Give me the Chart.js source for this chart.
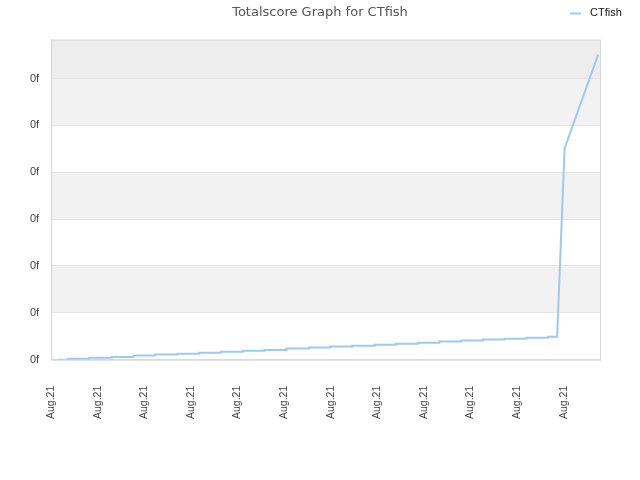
<!DOCTYPE html>
<html>
<head>
<meta charset="utf-8">
<script src="https://cdn.jsdelivr.net/npm/chart.js@4"></script>
<style>
  body { margin: 0; background: #fff; }
  #wrap { width: 640px; height: 480px; }
</style>
</head>
<body>
<div id="wrap"><canvas id="myChart" width="640" height="480"></canvas></div>
<script>
const seriesName = 'CTfish';
const xTickLabels = ['Aug.21', 'Aug.21', 'Aug.21', 'Aug.21', 'Aug.21', 'Aug.21',
  'Aug.21', 'Aug.21', 'Aug.21', 'Aug.21', 'Aug.21', 'Aug.21'];
const yTickLabels = ['0f', '0f', '0f', '0f', '0f', '0f', '0f'];

// staircase part: where each step starts and its level
const stepX = [0.13, 0.36, 0.82, 1.30, 1.77, 2.23, 2.71, 3.18, 3.64, 4.12, 4.58, 5.05,
  5.53, 5.99, 6.46, 6.94, 7.40, 7.87, 8.33, 8.80, 9.27, 9.73, 10.20, 10.67];
const stepY = [0.00, 0.02, 0.04, 0.06, 0.09, 0.11, 0.13, 0.15, 0.17, 0.19, 0.21, 0.24,
  0.26, 0.28, 0.30, 0.32, 0.34, 0.36, 0.39, 0.41, 0.43, 0.45, 0.47, 0.49];
// the jump at the end
const tailX = [10.86, 11.02, 11.74];
const tailY = [0.49, 4.51, 6.51];

const xMax = 11.78;
const yMax = 6.83;

const points = [];
stepX.forEach(function (x, i) {
  if (i > 0) points.push({ x: x, y: stepY[i - 1] });
  points.push({ x: x, y: stepY[i] });
});
tailX.forEach(function (x, i) {
  points.push({ x: x, y: tailY[i] });
});

const lineColor = '#9cc9f5';

const bandsPlugin = {
  id: 'bands',
  beforeDraw: function (chart) {
    const ctx = chart.ctx;
    const area = chart.chartArea;
    const y = chart.scales.y;
    ctx.save();
    const ticks = y.ticks.map(t => y.getPixelForValue(t.value));
    for (let i = 0; i < ticks.length - 1; i++) {
      ctx.fillStyle = i % 2 === 0 ? '#ffffff' : '#f2f2f2';
      ctx.fillRect(area.left, ticks[i + 1], area.right - area.left, ticks[i] - ticks[i + 1]);
    }
    ctx.fillStyle = '#ededed';
    ctx.fillRect(area.left, area.top, area.right - area.left, ticks[ticks.length - 1] - area.top);
    ctx.restore();
  },
  afterDraw: function (chart) {
    const ctx = chart.ctx;
    const area = chart.chartArea;
    ctx.save();
    ctx.strokeStyle = '#d9d9d9';
    ctx.lineWidth = 1;
    ctx.strokeRect(area.left + 0.5, area.top + 0.5, area.right - area.left, area.bottom - area.top);
    // legend, top right
    const ds = chart.data.datasets[0];
    ctx.strokeStyle = ds.borderColor;
    ctx.lineWidth = 2;
    ctx.beginPath();
    ctx.moveTo(570, 13.5);
    ctx.lineTo(581, 13.5);
    ctx.stroke();
    ctx.fillStyle = '#111';
    ctx.font = '11px "Liberation Sans"';
    ctx.textBaseline = 'middle';
    ctx.fillText(ds.label, 590, 13);
    ctx.restore();
  }
};

const ctx = document.getElementById('myChart').getContext('2d');
const chart = new Chart(ctx, {
  type: 'line',
  data: {
    datasets: [{
      label: seriesName,
      data: points,
      borderColor: lineColor,
      backgroundColor: lineColor,
      borderWidth: 2,
      pointRadius: 0,
      tension: 0,
      fill: false,
    }],
  },
  options: {
    responsive: false,
    animation: false,
    layout: {
      padding: { left: 18, right: 18, top: 0, bottom: 43 },
    },
    plugins: {
      legend: { display: false },
      tooltip: { enabled: false },
      title: {
        display: true,
        text: 'Totalscore Graph for ' + seriesName,
        color: '#555',
        font: { family: 'DejaVu Sans', size: 13, weight: 'normal' },
        padding: { top: 5, bottom: 19 },
      },
    },
    scales: {
      x: {
        type: 'linear',
        min: 0,
        max: xMax,
        afterBuildTicks: function (scale) {
          scale.ticks = scale.ticks.filter(t => Number.isInteger(t.value));
        },
        ticks: {
          stepSize: 1,
          autoSkip: false,
          maxRotation: 90,
          minRotation: 90,
          padding: 18,
          color: '#444',
          font: { family: 'Liberation Sans', size: 10.5 },
          callback: function (value) { return xTickLabels[value]; },
        },
        grid: { display: false },
        border: { display: true, color: '#d9d9d9' },
      },
      y: {
        min: 0,
        max: yMax,
        afterBuildTicks: function (scale) {
          scale.ticks = scale.ticks.filter(t => Number.isInteger(t.value));
        },
        ticks: {
          stepSize: 1,
          padding: 12,
          color: '#444',
          font: { family: 'Liberation Sans', size: 11 },
          callback: function (value) { return yTickLabels[value]; },
        },
        grid: { color: '#e3e3e3', drawTicks: false },
        border: { display: true, color: '#d9d9d9' },
      },
      // empty spacer on the right so the title stays centred on the page
      y2: {
        position: 'right',
        ticks: { display: false },
        grid: { display: false },
        border: { display: false },
        afterFit: function (scale) {
          scale.width = 22;
        },
      },
    },
  },
  plugins: [bandsPlugin],
});
</script>
</body>
</html>
